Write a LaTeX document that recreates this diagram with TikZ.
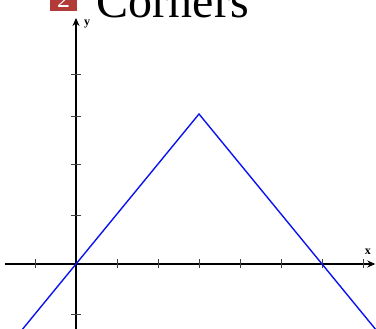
\documentclass[tikz,border=0pt]{standalone}
\usepackage{fontspec}
\setmainfont{Liberation Serif}
\usetikzlibrary{arrows.meta,positioning}
\definecolor{Badge}{HTML}{B23A37}
\definecolor{Curve}{HTML}{0A14F0}
\tikzset{
  axis/.style={black,line width=1.8pt,-{Stealth[length=8pt,width=7pt]}},
  tickmark/.style={black!75,line width=0.8pt},
  graph/.style={Curve,line width=1.4pt,line join=miter},
  axislabel/.style={font=\bfseries\fontsize{12}{12}\selectfont,inner sep=0pt}
}
\begin{document}
\begin{tikzpicture}[x=41pt,y=50pt]
\useasboundingbox (-1.854,-1.3) rectangle (7.317,5.28);
\clip (-1.854,-1.3) rectangle (7.317,5.28);
% title
\fill[Badge] (-0.634,5.06) rectangle (0.024,5.6);
\node[anchor=base,text=white,inner sep=0pt,font=\fontsize{26}{26}\selectfont] (num) at (-0.305,5.12) {2};
\node[anchor=base west,inner sep=0pt,font=\fontsize{48}{48}\selectfont] (title) at (0.5,4.92) {Corners};
% axes
\coordinate (o) at (0,0);
\coordinate (xl) at (-1.73,0);
\coordinate (xr) at (7.3,0);
\coordinate (yb) at (0,-1.32);
\coordinate (yt) at (0,4.92);
\draw[axis] (xl) -- (xr);
\draw[axis] (yb) -- (yt);
\node[axislabel] (xlab) at (7.12,0.24) {x};
\node[axislabel] (ylab) at (0.27,4.8) {y};
% ticks
\draw[tickmark] (-1,-0.09) -- (-1,0.09);
\draw[tickmark] (1,-0.09) -- (1,0.09);
\draw[tickmark] (2,-0.09) -- (2,0.09);
\draw[tickmark] (3,-0.09) -- (3,0.09);
\draw[tickmark] (4,-0.09) -- (4,0.09);
\draw[tickmark] (5,-0.09) -- (5,0.09);
\draw[tickmark] (6,-0.09) -- (6,0.09);
\draw[tickmark] (7,-0.09) -- (7,0.09);
\draw[tickmark] (-0.12,-1) -- (0.12,-1);
\draw[tickmark] (-0.12,0.98) -- (0.12,0.98);
\draw[tickmark] (-0.12,2) -- (0.12,2);
\draw[tickmark] (-0.12,2.96) -- (0.12,2.96);
\draw[tickmark] (-0.12,3.8) -- (0.12,3.8);
% graph
\coordinate (start) at (-1.4,-1.4);
\coordinate (peak) at (3,3);
\coordinate (stop) at (7.4,-1.4);
\draw[graph] (start) -- (peak) -- (stop);
\end{tikzpicture}
\end{document}
